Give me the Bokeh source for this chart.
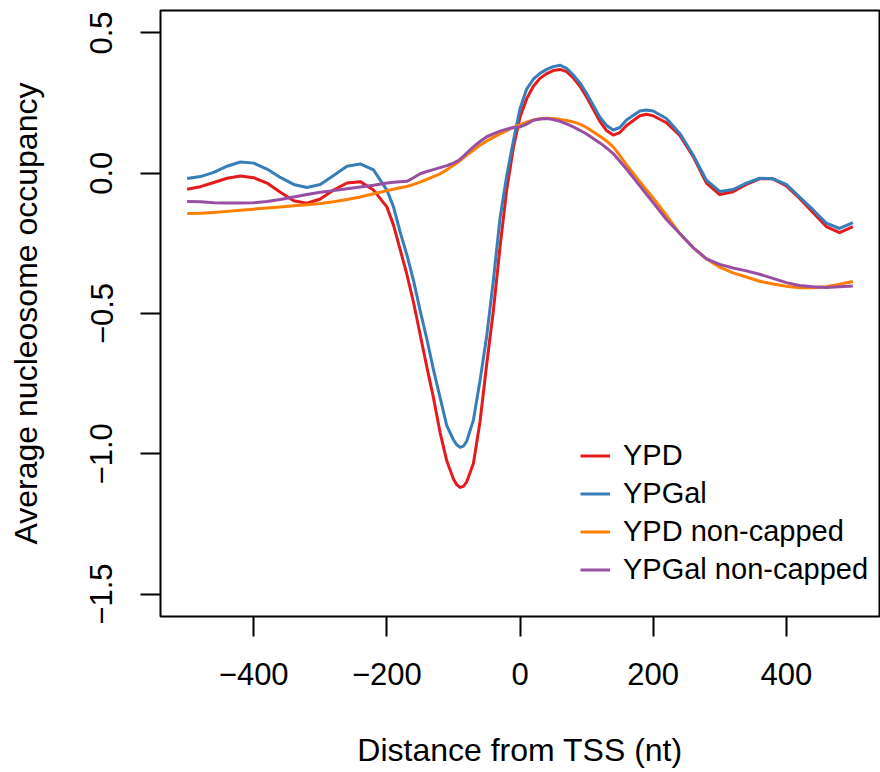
from bokeh.plotting import figure
from bokeh.models import Range1d, FixedTicker, Legend, LegendItem
from bokeh.embed import file_html
from bokeh.resources import INLINE

# Distance from TSS (nt)
x_nt = [-500, -480, -460, -440, -420, -400, -380, -360, -340, -320, -300, -280, -260, -240, -220,
        -200, -190, -180, -170, -160, -150, -140, -130, -120, -110, -100, -95, -90, -85, -80, -70, -60, -50,
        -40, -30, -20, -10, 0, 10, 20, 30,
        40, 50, 60, 70, 80, 90, 100, 120, 130, 140, 150, 160, 180, 190, 200, 220, 240, 260, 280, 300, 320, 340, 360, 380,
        400, 420, 440, 460, 480, 500]

ypd = [-0.057, -0.048, -0.033, -0.018, -0.010, -0.016, -0.035, -0.068, -0.098, -0.107, -0.092, -0.060, -0.035, -0.030, -0.060,
       -0.120, -0.185, -0.272, -0.360, -0.460, -0.575, -0.690, -0.800, -0.925, -1.025, -1.090, -1.110, -1.120, -1.116, -1.100, -1.035, -0.885, -0.680,
       -0.490, -0.263, -0.060, 0.090, 0.200, 0.265, 0.310, 0.338,
       0.355, 0.366, 0.370, 0.362, 0.340, 0.310, 0.272, 0.185, 0.152, 0.136, 0.145, 0.170, 0.205, 0.210, 0.205, 0.180, 0.135, 0.060, -0.035, -0.076, -0.066, -0.040, -0.020, -0.020,
       -0.045, -0.090, -0.140, -0.190, -0.212, -0.190]

ypgal = [-0.019, -0.012, 0.003, 0.025, 0.040, 0.036, 0.015, -0.015, -0.040, -0.051, -0.040, -0.008, 0.025, 0.033, 0.012,
         -0.060, -0.120, -0.210, -0.290, -0.382, -0.490, -0.590, -0.700, -0.800, -0.900, -0.950, -0.968, -0.977, -0.973, -0.955, -0.880, -0.739, -0.580,
         -0.382, -0.160, -0.010, 0.115, 0.230, 0.300, 0.335, 0.356,
         0.370, 0.380, 0.385, 0.374, 0.350, 0.322, 0.285, 0.200, 0.170, 0.154, 0.163, 0.190, 0.222, 0.225, 0.222, 0.195, 0.142, 0.065, -0.025, -0.065, -0.058, -0.035, -0.018, -0.020,
         -0.040, -0.085, -0.130, -0.178, -0.197, -0.176]

ypd_noncap = [-0.144, -0.143, -0.140, -0.136, -0.132, -0.128, -0.124, -0.120, -0.116, -0.112, -0.108, -0.102, -0.094, -0.085, -0.073,
              -0.062, -0.057, -0.052, -0.047, -0.040, -0.032, -0.022, -0.012, -0.002, 0.012, 0.028, 0.036, 0.045, 0.055, 0.065, 0.082, 0.100, 0.115,
              0.128, 0.140, 0.152, 0.163, 0.172, 0.182, 0.190, 0.194,
              0.196, 0.195, 0.192, 0.188, 0.183, 0.175, 0.163, 0.132, 0.115, 0.094, 0.063, 0.030, -0.030, -0.060, -0.088, -0.150, -0.215, -0.265, -0.305, -0.335, -0.355, -0.370, -0.385, -0.395,
              -0.403, -0.408, -0.408, -0.405, -0.396, -0.386]

ypgal_noncap = [-0.101, -0.102, -0.105, -0.106, -0.106, -0.105, -0.101, -0.094, -0.085, -0.076, -0.068, -0.062, -0.055, -0.049, -0.043,
                -0.035, -0.032, -0.030, -0.029, -0.016, -0.002, 0.006, 0.013, 0.020, 0.027, 0.036, 0.042, 0.050, 0.060, 0.072, 0.094, 0.113, 0.130,
                0.140, 0.150, 0.157, 0.163, 0.165, 0.175, 0.189, 0.193,
                0.195, 0.191, 0.185, 0.176, 0.165, 0.153, 0.140, 0.108, 0.090, 0.070, 0.043, 0.015, -0.045, -0.075, -0.105, -0.165, -0.215, -0.265, -0.305, -0.325, -0.338, -0.348, -0.360, -0.375,
                -0.390, -0.400, -0.405, -0.407, -0.405, -0.402]

series_names = ["YPD", "YPGal", "YPD non-capped", "YPGal non-capped"]
series_colors = ["#E41A1C", "#377EB8", "#FF7F00", "#984EA3"]

x_ticks = [-400, -200, 0, 200, 400]
x_tick_labels = ["\u2212400", "\u2212200", "0", "200", "400"]
y_ticks = [0.5, 0.0, -0.5, -1.0, -1.5]
y_tick_labels = ["0.5", "0.0", "\u22120.5", "\u22121.0", "\u22121.5"]

FONT = "Liberation Sans"

p = figure(width=880, height=772, output_backend="svg", toolbar_location=None,
           x_range=Range1d(-540, 540), y_range=Range1d(-1.58, 0.58),
           min_border_left=160, min_border_right=1, min_border_top=10, min_border_bottom=156)
p.background_fill_color = "white"
p.border_fill_color = "white"
p.outline_line_color = "black"
p.outline_line_width = 2
p.xgrid.visible = False
p.ygrid.visible = False

renderers = []
for ys, c in zip([ypd, ypgal, ypd_noncap, ypgal_noncap], series_colors):
    r = p.line(x_nt, ys, line_color=c, line_width=3, line_join="round")
    renderers.append(r)

for ax, ticks, labels in [(p.xaxis[0], x_ticks, x_tick_labels), (p.yaxis[0], y_ticks, y_tick_labels)]:
    ax.ticker = FixedTicker(ticks=ticks, minor_ticks=[])
    ax.major_label_overrides = {t: l for t, l in zip(ticks, labels)}
    ax.axis_line_color = None
    ax.major_tick_line_color = "black"
    ax.major_tick_line_width = 2
    ax.major_tick_out = 20
    ax.major_tick_in = 0
    ax.minor_tick_line_color = None
    ax.major_label_text_font = FONT
    ax.major_label_text_font_size = "31px"
    ax.major_label_text_color = "black"
    ax.axis_label_text_font = FONT
    ax.axis_label_text_font_size = "32px"
    ax.axis_label_text_font_style = "normal"
    ax.axis_label_text_color = "black"

p.xaxis.axis_label = "Distance from TSS (nt)"
p.yaxis.axis_label = "Average nucleosome occupancy"
p.xaxis.major_label_standoff = 26
p.xaxis.axis_label_standoff = 44
p.yaxis.major_label_orientation = "vertical"
p.yaxis.major_label_standoff = 28
p.yaxis.axis_label_standoff = 44

legend = Legend(items=[LegendItem(label=n, renderers=[r]) for n, r in zip(series_names, renderers)],
                location=(420, 30), orientation="vertical")
legend.border_line_color = None
legend.background_fill_alpha = 0
legend.padding = 0
legend.margin = 0
legend.spacing = 5
legend.glyph_width = 30
legend.glyph_height = 33
legend.label_height = 33
legend.label_standoff = 13
legend.label_text_font = FONT
legend.label_text_font_size = "29px"
legend.label_text_color = "black"
p.add_layout(legend, "center")

open("out.html", "w").write(file_html(p, INLINE))
